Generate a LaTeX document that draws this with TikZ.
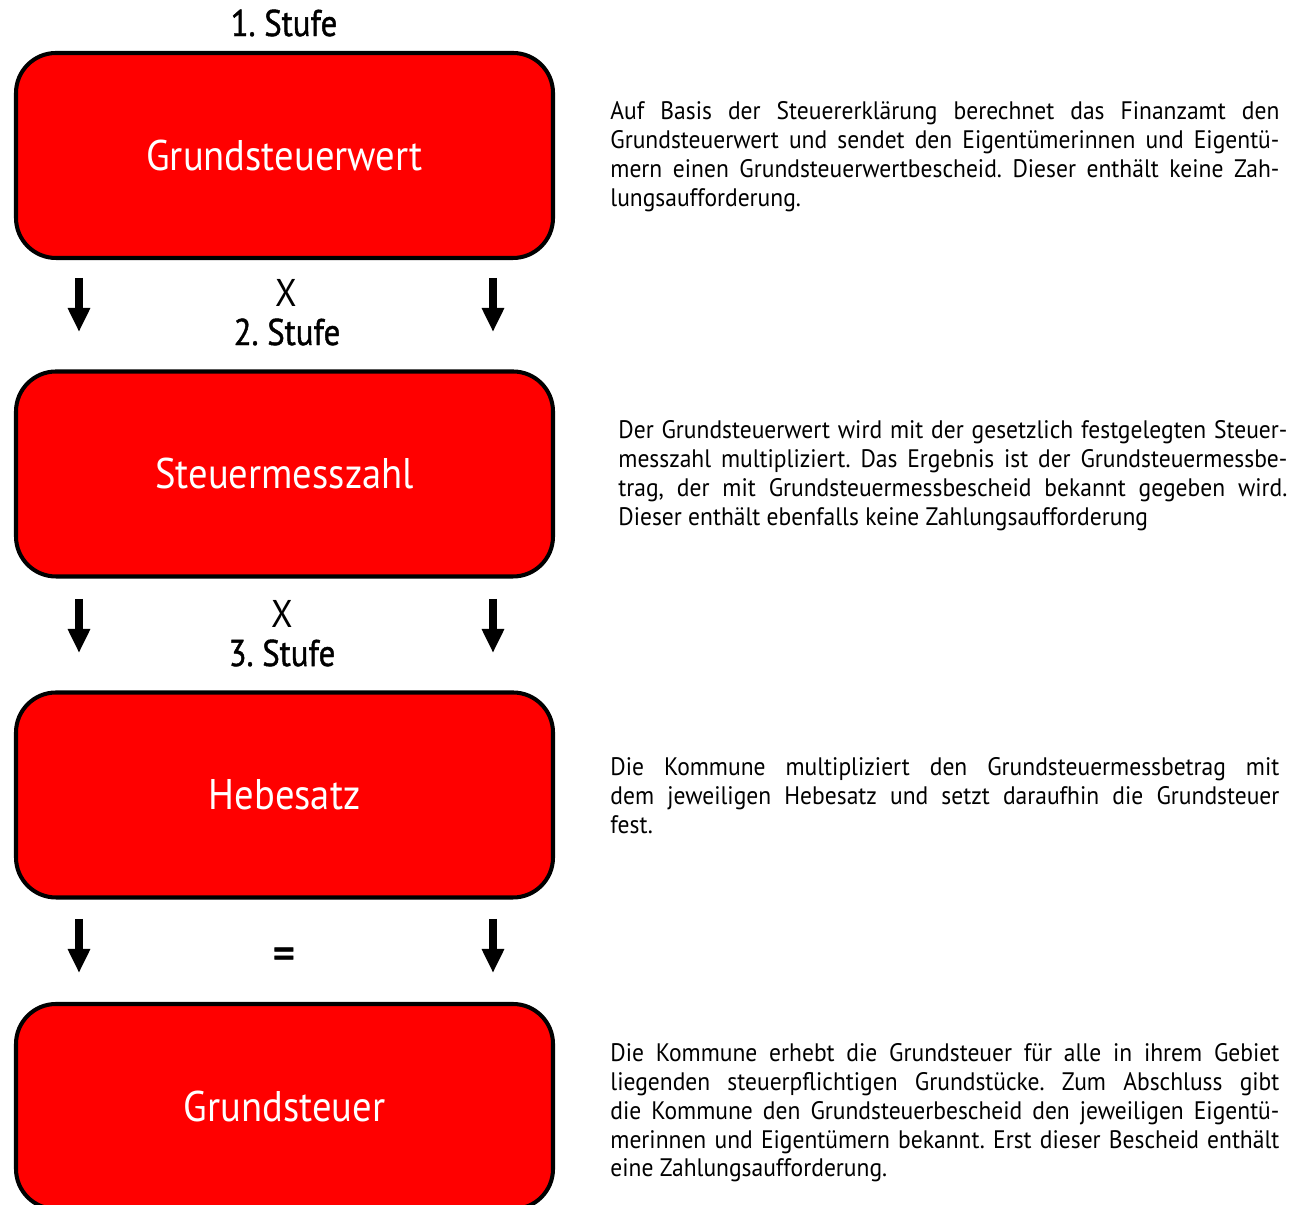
\documentclass[tikz,border=0pt]{standalone}
\usepackage{fontspec}
\setmainfont{PT Sans}[FakeStretch=0.9]
\newfontfamily\titelfont{PT Sans}[FakeStretch=0.88, FakeBold=1.2]
\newfontfamily\infofont{PT Sans}[FakeStretch=0.93]
\frenchspacing
\usetikzlibrary{arrows.meta}

\begin{document}
\begin{tikzpicture}[thick,
  stufe/.style = {draw, line width=1.15pt, fill=red, rounded corners=0.4cm, minimum width=5.37cm, minimum height=2.05cm, text=white, font=\fontsize{12.2}{14}\selectfont},
  titel/.style = {font=\titelfont\fontsize{10.6}{12}\selectfont},
  op/.style = {font=\fontsize{11}{12}\selectfont},
  info/.style = {anchor=north west, text width=6.69cm, align=justify, inner sep=0pt, font=\infofont\fontsize{7.2}{8.22}\selectfont, execute at begin node={\tolerance=10000 \hyphenpenalty=10000 }},
  pfeil/.style = {-{Triangle[width=2.1mm,length=2.4mm]}, line width=0.085cm}]
      \useasboundingbox (0,0) rectangle (13.01,-12.05);

      % Stufen
      \node[stufe] (wert) at (2.845,-1.555) {Grundsteuerwert};
      \node[stufe] (messzahl) at (2.845,-4.74) {Steuermesszahl};
      \node[stufe] (hebesatz) at (2.845,-7.95) {Hebesatz};
      \node[stufe] (steuer) at (2.845,-11.065) {Grundsteuer};

      \node[titel] (t1) at (2.84,-0.23) {1. Stufe};
      \node[op] (op1) at (2.86,-2.93) {X};
      \node[titel] (t2) at (2.87,-3.32) {2. Stufe};
      \node[op] (op2) at (2.82,-6.14) {X};
      \node[titel] (t3) at (2.82,-6.53) {3. Stufe};
      \node[op, font=\fontsize{14}{14}\selectfont\titelfont] (op3) at (2.84,-9.59) {=};

      % Pfeile
      \coordinate (l1a) at (0.79,-2.78); \coordinate (l1b) at (0.79,-3.32);
      \coordinate (r1a) at (4.93,-2.78); \coordinate (r1b) at (4.93,-3.32);
      \coordinate (l2a) at (0.79,-5.99); \coordinate (l2b) at (0.79,-6.53);
      \coordinate (r2a) at (4.93,-5.99); \coordinate (r2b) at (4.93,-6.53);
      \coordinate (l3a) at (0.79,-9.19); \coordinate (l3b) at (0.79,-9.73);
      \coordinate (r3a) at (4.93,-9.19); \coordinate (r3b) at (4.93,-9.73);
      \draw[pfeil] (l1a) to (l1b);
      \draw[pfeil] (r1a) to (r1b);
      \draw[pfeil] (l2a) to (l2b);
      \draw[pfeil] (r2a) to (r2b);
      \draw[pfeil] (l3a) to (l3b);
      \draw[pfeil] (r3a) to (r3b);

      % Erklaerungen
      \node[info] (txt1) at (6.09,-1.0) {Auf Basis der Steuererklärung berechnet das Finanzamt den\linebreak Grundsteuerwert und sendet den Eigentümerinnen und Eigentü-\linebreak mern einen Grundsteuerwertbescheid. Dieser enthält keine Zah-\linebreak lungsaufforderung.};
      \node[info] (txt2) at (6.17,-4.19) {Der Grundsteuerwert wird mit der gesetzlich festgelegten Steuer-\linebreak messzahl multipliziert. Das Ergebnis ist der Grundsteuermessbe-\linebreak trag, der mit Grundsteuermessbescheid bekannt gegeben wird.\linebreak Dieser enthält ebenfalls keine Zahlungsaufforderung};
      \node[info] (txt3) at (6.09,-7.56) {Die Kommune multipliziert den Grundsteuermessbetrag mit\linebreak dem jeweiligen Hebesatz und setzt daraufhin die Grundsteuer\linebreak fest.};
      \node[info] (txt4) at (6.09,-10.42) {Die Kommune erhebt die Grundsteuer für alle in ihrem Gebiet\linebreak liegenden steuerpflichtigen Grundstücke. Zum Abschluss gibt\linebreak die Kommune den Grundsteuerbescheid den jeweiligen Eigentü-\linebreak merinnen und Eigentümern bekannt. Erst dieser Bescheid enthält\linebreak eine Zahlungsaufforderung.};
\end{tikzpicture}
\end{document}
